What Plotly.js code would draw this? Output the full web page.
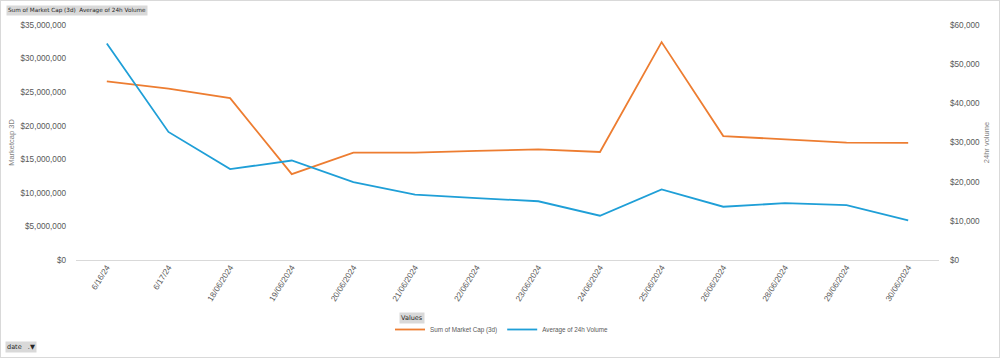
<!DOCTYPE html>
<html>
<head>
<meta charset="utf-8">
<script src="https://cdn.plot.ly/plotly-3.0.1.min.js"></script>
<style>
  html, body { margin: 0; padding: 0; background: #fff; }
  #wrap { position: relative; width: 1000px; height: 358px; }
  #chart { position: absolute; left: 0; top: 0; width: 1000px; height: 358px; }
  #frame { position: absolute; left: 0; top: 0; width: 1000px; height: 358px; box-sizing: border-box; border: 1px solid #d9d9d9; pointer-events: none; }
</style>
</head>
<body>
<div id="wrap"><div id="chart"></div><div id="frame"></div></div>
<script>
const dates = ["6/16/24", "6/17/24", "18/06/2024", "19/06/2024", "20/06/2024", "21/06/2024", "22/06/2024",
               "23/06/2024", "24/06/2024", "25/06/2024", "26/06/2024", "28/06/2024", "29/06/2024", "30/06/2024"];
const marketCap3d = [26620000, 25540000, 24100000, 12780000, 15990000, 15990000, 16240000,
                     16490000, 16090000, 32450000, 18460000, 18020000, 17470000, 17430000];
const avgVolume24h = [55300, 32700, 23200, 25400, 19900, 16700, 15800,
                      15000, 11300, 18000, 13600, 14500, 14000, 10100];
const leftTicks = [0, 5000000, 10000000, 15000000, 20000000, 25000000, 30000000, 35000000];
const rightTicks = [0, 10000, 20000, 30000, 40000, 50000, 60000];

const tickFont = { family: "Liberation Sans, Arial, sans-serif", size: 8.2, color: "#595959" };

const traces = [
  { type: "scatter", mode: "lines", name: "Sum of Market Cap (3d)", x: dates, y: marketCap3d,
    line: { color: "#ED7D31", width: 1.8 }, yaxis: "y" },
  { type: "scatter", mode: "lines", name: "Average of 24h Volume", x: dates, y: avgVolume24h,
    line: { color: "#1F9FD7", width: 1.8 }, yaxis: "y2" }
];

const layout = {
  width: 1000, height: 358,
  margin: { l: 76, r: 61, t: 24.5, b: 97.5, autoexpand: false },
  paper_bgcolor: "#ffffff", plot_bgcolor: "#ffffff",
  showlegend: true,
  legend: { orientation: "h", xref: "container", yref: "container", x: 0.502, xanchor: "center",
            y: 1 - 315 / 358, yanchor: "top",
            font: { family: "Liberation Sans, Arial, sans-serif", size: 6.3, color: "#595959" },
            itemwidth: 30, tracegroupgap: 0, bgcolor: "rgba(0,0,0,0)" },
  xaxis: { type: "category", range: [-0.5, 13.5], showgrid: false, zeroline: false, showline: false,
           ticks: "", tickangle: -58, tickfont: { family: "Liberation Sans, Arial, sans-serif", size: 8.2, color: "#595959" },
           automargin: false, fixedrange: true },
  yaxis: { range: [0, 35000000], tickvals: leftTicks, tickformat: "$,.0f", showgrid: false,
           zeroline: true, zerolinecolor: "#d9d9d9", zerolinewidth: 1, showline: false, ticks: "",
           tickfont: tickFont, ticklabelstandoff: 9, automargin: false,
           title: { text: "Marketcap 3D", font: { family: "Liberation Sans, Arial, sans-serif", size: 7.5, color: "#7f7f7f" }, standoff: 4 } },
  yaxis2: { range: [0, 60000], tickvals: rightTicks, tickformat: "$,.0f", overlaying: "y", side: "right",
            showgrid: false, zeroline: false, showline: false, ticks: "",
            tickfont: tickFont, ticklabelstandoff: 10, automargin: false,
            title: { text: "24hr volume", font: { family: "Liberation Sans, Arial, sans-serif", size: 7.5, color: "#7f7f7f" }, standoff: 4 } },
  annotations: [
    { text: "Sum of Market Cap (3d)  Average of 24h Volume", xref: "paper", yref: "paper",
      x: (6 - 76) / 863, y: (260.5 - 4.5) / 236, xanchor: "left", yanchor: "top", showarrow: false,
      bgcolor: "#d9d9d9", borderpad: 1, font: { family: "DejaVu Sans, sans-serif", size: 5.7, color: "#262626" } },
    { text: "Values", xref: "paper", yref: "paper",
      x: (411.5 - 76) / 863, y: (260.5 - 318.5) / 236, xanchor: "center", yanchor: "middle", showarrow: false,
      bgcolor: "#d9d9d9", borderpad: 1, font: { family: "DejaVu Sans, sans-serif", size: 6.5, color: "#262626" } },
    { text: "date   .▼", xref: "paper", yref: "paper",
      x: (5 - 76) / 863, y: (260.5 - 347.5) / 236, xanchor: "left", yanchor: "middle", showarrow: false,
      bgcolor: "#d9d9d9", borderpad: 1, font: { family: "DejaVu Sans, sans-serif", size: 6.5, color: "#262626" } }
  ]
};

Plotly.newPlot("chart", traces, layout, { staticPlot: true, displayModeBar: false });
</script>
</body>
</html>
